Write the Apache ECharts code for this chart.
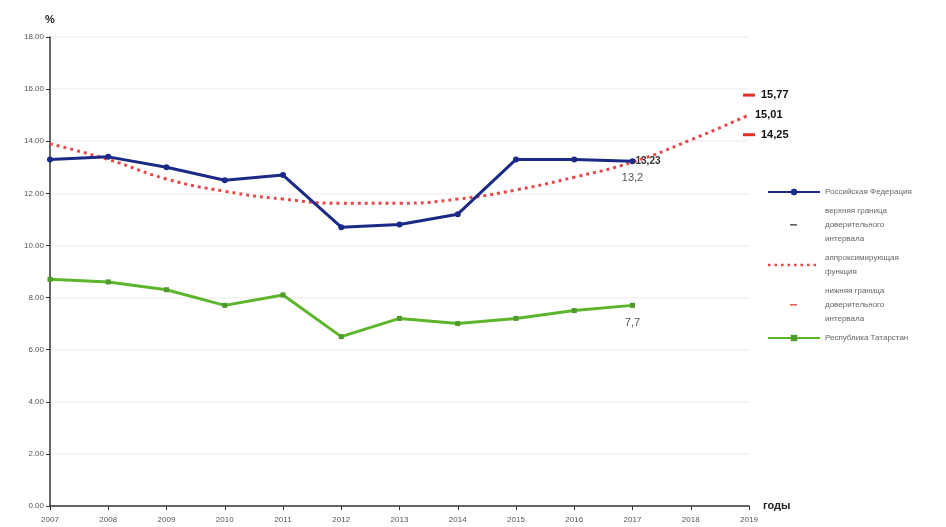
<!DOCTYPE html>
<html>
<head>
<meta charset="utf-8">
<script src="https://cdn.jsdelivr.net/npm/echarts@6/dist/echarts.min.js"></script>
<style>html,body{margin:0;padding:0;background:#fff}#c{width:946px;height:527px}</style>
</head>
<body>
<div id="c"></div>
<script>
const years = ['2007','2008','2009','2010','2011','2012','2013','2014','2015','2016','2017','2018','2019'];
const russia = [13.3, 13.4, 13.0, 12.5, 12.7, 10.7, 10.8, 11.2, 13.3, 13.3, 13.23, null, null];
const tatarstan = [8.7, 8.6, 8.3, 7.7, 8.1, 6.5, 7.2, 7.0, 7.2, 7.5, 7.7, null, null];
const approx = [13.9, 13.3, 12.55, 12.08, 11.78, 11.62, 11.62, 11.78, 12.13, 12.62, 13.2, 14.05, 15.01];
const upperBound = [null, null, null, null, null, null, null, null, null, null, null, null, 15.77];
const lowerBound = [null, null, null, null, null, null, null, null, null, null, null, null, 14.25];
const yTicks = [0, 18, 2];
const names = ['Российская Федерация', 'верхняя граница доверительного интервала', 'аппроксимирующая функция', 'нижняя граница доверительного интервала', 'Республика Татарстан'];
const legendText = {
  'Российская Федерация': 'Российская Федерация',
  'верхняя граница доверительного интервала': 'верхняя граница\nдоверительного\nинтервала',
  'аппроксимирующая функция': 'аппроксимирующая\nфункция',
  'нижняя граница доверительного интервала': 'нижняя граница\nдоверительного\nинтервала',
  'Республика Татарстан': 'Республика Татарстан'
};

const chart = echarts.init(document.getElementById('c'));
const lastLabel = (arr, idx, label) => arr.map((v, i) => i === idx ? { value: v, label: label } : v);
const corners = 'M0,0h0.01v0.01h-0.01z M52,8h0.01v0.01h-0.01z';
const dashIcon = 'path://' + corners + ' M22,3.2h7v1.4h-7z';
let dots = '';
for (let x = 0; x < 52; x += 6.5) dots += ' M' + x + ',2.8h2.6v2.4h-2.6z';
const dotIcon = 'path://' + corners + dots;

chart.setOption({
  animation: false,
  textStyle: { fontFamily: 'Liberation Sans, Arial, sans-serif' },
  grid: { left: 50, right: 197, top: 37, bottom: 21 },
  legend: {
    orient: 'vertical',
    left: 762, top: 180,
    itemWidth: 52, itemHeight: 8, itemGap: 5,
    data: [
      { name: names[0] },
      { name: names[1], icon: dashIcon, itemStyle: { color: '#333' } },
      { name: names[2], icon: dotIcon, itemStyle: { color: '#e8474a' } },
      { name: names[3], icon: dashIcon, itemStyle: { color: '#e03030' } },
      { name: names[4] }
    ],
    formatter: n => legendText[n],
    textStyle: { fontSize: 8, color: '#666', lineHeight: 14 }
  },
  xAxis: {
    type: 'category', data: years, boundaryGap: false,
    name: 'годы', nameLocation: 'end', nameGap: 14,
    nameTextStyle: { fontSize: 11, fontWeight: 'bold', color: '#222', verticalAlign: 'middle' },
    axisLine: { lineStyle: { color: '#333', width: 1.5 } },
    axisTick: { show: true, alignWithLabel: true, length: 4, lineStyle: { color: '#333' } },
    axisLabel: { fontSize: 8, color: '#555', margin: 10 },
    splitLine: { show: false }
  },
  yAxis: {
    type: 'value', min: yTicks[0], max: yTicks[1], interval: yTicks[2],
    name: '%', nameLocation: 'end', nameGap: 12,
    nameTextStyle: { fontSize: 11, fontWeight: 'bold', color: '#222', align: 'center' },
    axisLine: { show: true, lineStyle: { color: '#333', width: 1.5 } },
    axisTick: { show: true, length: 4, lineStyle: { color: '#333' } },
    axisLabel: { fontSize: 8, color: '#555', margin: 6, formatter: v => v.toFixed(2) },
    splitLine: { show: true, lineStyle: { color: '#f2f2f2', width: 1.5 } }
  },
  series: [
    {
      name: names[0], type: 'line',
      data: lastLabel(russia, 10, { show: true, position: 'right', distance: 0, formatter: '13,23', fontSize: 10, fontWeight: 'bold', color: '#333' }),
      color: '#1a2a86',
      lineStyle: { width: 3, color: '#1a2a86' },
      symbol: 'circle', symbolSize: 6,
      itemStyle: { color: '#1a2a86' },
      z: 3
    },
    {
      name: names[1], type: 'line', data: lastLabel(upperBound, 12, { show: true, position: 'right', distance: 6, formatter: '15,77', fontSize: 11, fontWeight: 'bold', color: '#111' }),
      color: '#333',
      lineStyle: { width: 0 },
      symbol: 'rect', symbolSize: [12, 3],
      itemStyle: { color: '#e03030' }
    },
    {
      name: names[2], type: 'line', smooth: true,
      data: approx.map((v, i) => i === 10 ? { value: v, label: { show: true, position: 'bottom', distance: 10, formatter: '13,2', fontSize: 11, color: '#555' } }
                         : i === 12 ? { value: v, label: { show: true, position: 'right', distance: 6, formatter: '15,01', fontSize: 11, fontWeight: 'bold', color: '#111' } } : v),
      color: '#e8474a',
      lineStyle: { width: 3, color: '#e8474a', type: [3, 4] },
      symbol: 'circle', symbolSize: 0, showSymbol: true,
      z: 2
    },
    {
      name: names[3], type: 'line', data: lastLabel(lowerBound, 12, { show: true, position: 'right', distance: 6, formatter: '14,25', fontSize: 11, fontWeight: 'bold', color: '#111' }),
      color: '#e03030',
      lineStyle: { width: 0 },
      symbol: 'rect', symbolSize: [12, 3],
      itemStyle: { color: '#e03030' }
    },
    {
      name: names[4], type: 'line',
      data: lastLabel(tatarstan, 10, { show: true, position: 'bottom', distance: 10, formatter: '7,7', fontSize: 11, color: '#555' }),
      color: '#5db52c',
      lineStyle: { width: 3, color: '#5db52c' },
      symbol: 'rect', symbolSize: 5,
      itemStyle: { color: '#4e9a2a' }
    }
  ]
});
</script>
</body>
</html>
